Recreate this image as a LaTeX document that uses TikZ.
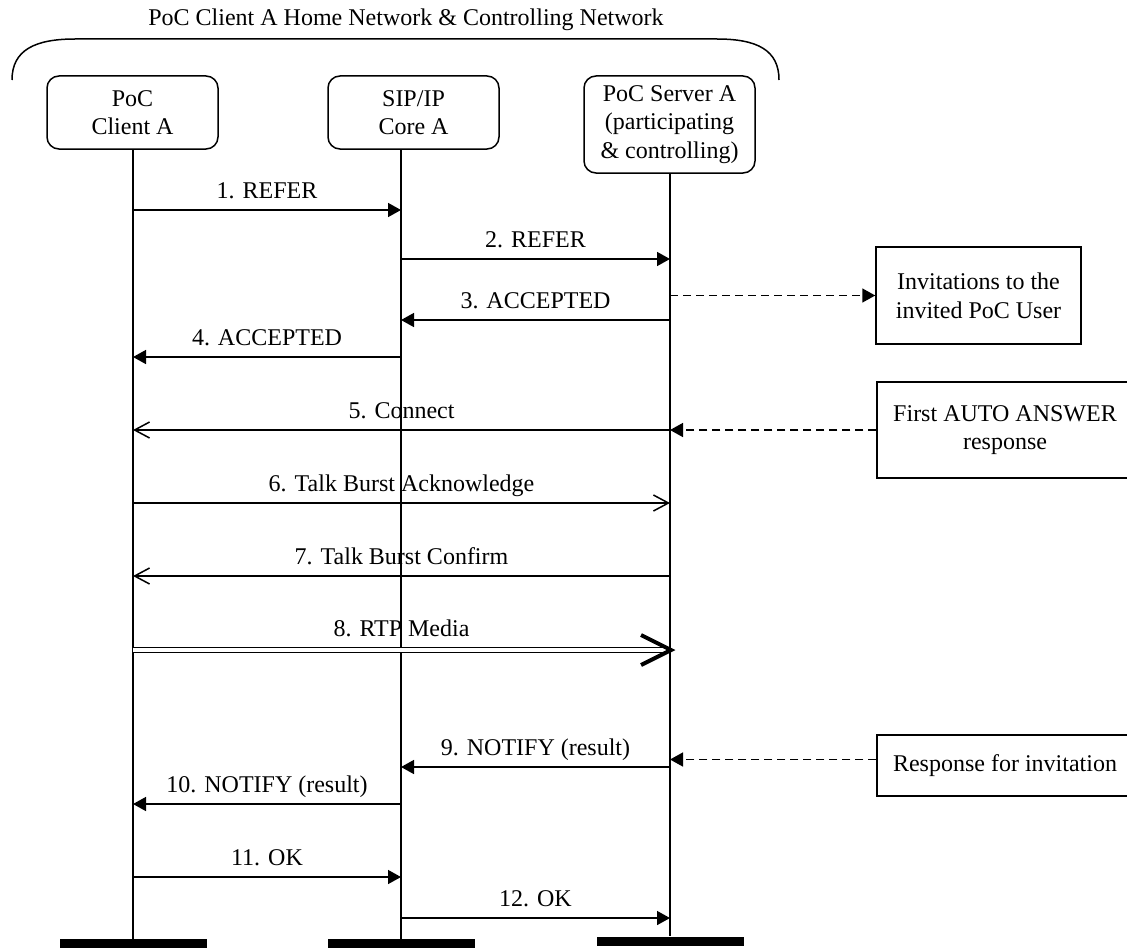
\documentclass[tikz,border=0pt]{standalone}
\usepackage{fontspec}
\setmainfont{Liberation Serif}
\usetikzlibrary{arrows.meta, positioning, calc}

\tikzset{
  entity/.style={draw, line width=0.75pt, rounded corners=6pt, align=center, minimum width=85.5pt, minimum height=36.5pt, inner sep=2pt},
  note/.style={draw, line width=0.75pt, align=center, inner sep=2pt},
  lifeline/.style={line width=0.75pt},
  endbar/.style={fill=black, inner sep=0pt, minimum width=73.5pt, minimum height=4.5pt},
  msg/.style={line width=0.75pt, -{Triangle[length=6.5pt,width=7pt]}},
  reply/.style={line width=0.75pt, -{Straight Barb[length=7.5pt,width=8pt]}},
  media/.style={double, double distance=1.6pt, line width=0.7pt},
  hint/.style={line width=0.75pt, dash pattern=on 4pt off 2.5pt, -{Triangle[length=6.5pt,width=7pt]}},
  lbl/.style={anchor=base, yshift=6pt, inner sep=0pt}
}

\begin{document}
\begin{tikzpicture}[x=0.5pt, y=-0.5pt, font=\fontsize{12}{14.3}\selectfont]
  \useasboundingbox (0,0) rectangle (1127,947);

  % Network bracket with its title
  \node (net) at (406,20) {PoC Client A Home Network \& Controlling Network};
  \draw[line width=0.75pt] (12,80) .. controls (12,50) and (35,39) .. (75,39) -- (717,39) .. controls (757,39) and (779,50) .. (779,80);

  % Entities
  \node[entity] (ca) at (132.5,112.5) {PoC\\Client A};
  \node[entity] (cb) at (413.5,112.5) {SIP/IP\\Core A};
  \node[entity, minimum height=48.5pt] (cc) at (669.5,124.5) {PoC Server A\\(participating\\\& controlling)};

  % End bars and lifelines
  \node[endbar] (ea) at (133,943.5) {};
  \node[endbar] (eb) at (401,943.5) {};
  \node[endbar] (ec) at (670,941) {};
  \draw[lifeline] (ea |- ca.south) -- (ea.north);
  \draw[lifeline] (eb |- cb.south) -- (eb.north);
  \draw[lifeline] (ec |- cc.south) -- (ec.north);

  % Side notes
  \node[note, minimum width=102.5pt, minimum height=48.5pt] (inv) at (978.5,295.5) {Invitations to the\\invited PoC User};
  \node[note, minimum width=128pt, minimum height=48pt] (auto) at (1005,430) {First AUTO ANSWER\\response};
  \node[note, minimum width=128pt, minimum height=30.5pt] (resp) at (1005,765.5) {Response for invitation};
  \coordinate (rw) at ([yshift=3pt]resp.west);

  % REFER and ACCEPTED
  \draw[msg] (ea |- 0,210) -- node[lbl] {1. REFER} (eb |- 0,210);
  \draw[msg] (eb |- 0,259) -- node[lbl] {2. REFER} (ec |- 0,259);
  \draw[hint] (ec |- inv.west) -- (inv.west);
  \draw[msg] (ec |- 0,320) -- node[lbl] {3. ACCEPTED} (eb |- 0,320);
  \draw[msg] (eb |- 0,357) -- node[lbl] {4. ACCEPTED} (ea |- 0,357);

  % Connect and Talk Burst
  \draw[hint] (auto.west) -- (ec |- auto.west);
  \draw[reply] (ec |- 0,430) -- node[lbl] {5. Connect} (ea |- 0,430);
  \draw[reply] (ea |- 0,503) -- node[lbl] {6. Talk Burst Acknowledge} (ec |- 0,503);
  \draw[reply] (ec |- 0,576) -- node[lbl] {7. Talk Burst Confirm} (ea |- 0,576);

  % RTP Media
  \coordinate (rtp) at (671,650);
  \draw[media] (ea |- 0,650) -- node[lbl, yshift=1pt] {8. RTP Media} (ec |- 0,650);
  \draw[line width=2pt] ([shift={(-30,-15)}]rtp) -- (rtp) -- ([shift={(-30,15)}]rtp);

  % NOTIFY and OK
  \draw[hint] (rw) -- (ec |- rw);
  \draw[msg] (ec |- 0,767) -- node[lbl] {9. NOTIFY (result)} (eb |- 0,767);
  \draw[msg] (eb |- 0,804) -- node[lbl] {10. NOTIFY (result)} (ea |- 0,804);
  \draw[msg] (ea |- 0,877) -- node[lbl] {11. OK} (eb |- 0,877);
  \draw[msg] (eb |- 0,918) -- node[lbl] {12. OK} (ec |- 0,918);
\end{tikzpicture}
\end{document}
